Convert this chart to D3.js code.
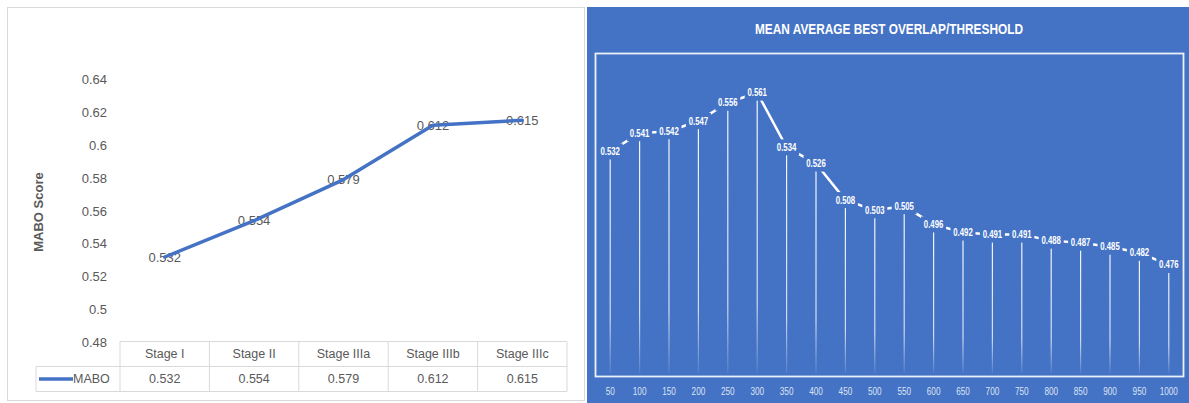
<!DOCTYPE html>
<html>
<head>
<meta charset="utf-8">
<script src="https://cdn.jsdelivr.net/npm/d3@7"></script>
<style>
  html, body { margin: 0; padding: 0; background: #fff; }
  svg { display: block; }
  .grey-text { fill: #595959; font-family: "Liberation Sans", Arial, sans-serif; }
  .white-text { font-family: "Liberation Sans", Arial, sans-serif; }
</style>
</head>
<body>
<svg id="chart" width="1189" height="403"></svg>
<script>
"use strict";

// ── Data ─────────────────────────────────────────────────────────────────────
const stages = ["Stage I", "Stage II", "Stage IIIa", "Stage IIIb", "Stage IIIc"];
const maboScores = [0.532, 0.554, 0.579, 0.612, 0.615];
const maboTicks = [0.48, 0.5, 0.52, 0.54, 0.56, 0.58, 0.6, 0.62, 0.64];
const seriesName = "MABO";

const thresholds = [50, 100, 150, 200, 250, 300, 350, 400, 450, 500,
                    550, 600, 650, 700, 750, 800, 850, 900, 950, 1000];
const overlapScores = [0.532, 0.541, 0.542, 0.547, 0.556, 0.561, 0.534, 0.526, 0.508, 0.503,
                       0.505, 0.496, 0.492, 0.491, 0.491, 0.488, 0.487, 0.485, 0.482, 0.476];

const BLUE = "#4472C4";
const svg = d3.select("#chart");
const fmt = v => String(+v.toFixed(3));

// ── Left panel: MABO by stage with data table ────────────────────────────────
const LeftChart = (() => {
  const g = svg.append("g");

  g.append("rect")
    .attr("x", 7.5).attr("y", 7.5)
    .attr("width", 577).attr("height", 393)
    .attr("fill", "#fff").attr("stroke", "#d9d9d9");

  const x = d3.scaleBand().domain(stages).range([120, 567]).padding(0);
  const y = d3.scaleLinear().domain([0.48, 0.64]).range([342.7, 79]);
  const cx = d => x(d) + x.bandwidth() / 2;

  // y tick labels (no axis line, no gridlines)
  const yAxis = d3.axisLeft(y).tickValues(maboTicks).tickSize(0).tickPadding(0).tickFormat(fmt);
  const ya = g.append("g").attr("transform", "translate(107,0)").call(yAxis);
  ya.select(".domain").remove();
  ya.selectAll("text")
    .attr("class", "grey-text")
    .attr("font-size", "13px");

  // axis title
  g.append("text")
    .attr("class", "grey-text")
    .attr("transform", "translate(43,212) rotate(-90)")
    .attr("text-anchor", "middle")
    .attr("font-size", "13px")
    .attr("font-weight", "bold")
    .text("MABO Score");

  // data labels (drawn under the line, like the reference)
  g.selectAll(".mabo-label")
    .data(maboScores)
    .enter().append("text")
    .attr("class", "grey-text mabo-label")
    .attr("x", (d, i) => cx(stages[i]))
    .attr("y", d => y(d))
    .attr("dy", "0.35em")
    .attr("text-anchor", "middle")
    .attr("font-size", "13px")
    .text(fmt);

  const line = d3.line()
    .x((d, i) => cx(stages[i]))
    .y(d => y(d));

  g.append("path")
    .datum(maboScores)
    .attr("d", line)
    .attr("fill", "none")
    .attr("stroke", BLUE)
    .attr("stroke-width", 3.5)
    .attr("stroke-linejoin", "round")
    .attr("stroke-linecap", "round");

  // ── Data table ──
  const top = 341.5, mid = 366.5, bottom = 391.5, legLeft = 36;
  const tbl = g.append("g")
    .attr("fill", "none")
    .attr("stroke", "#d9d9d9")
    .attr("stroke-width", 1);

  tbl.append("path")
    .attr("d", `M${x.range()[0]},${top}H${x.range()[1]}V${bottom}H${legLeft}V${mid}H${x.range()[1]}`);
  tbl.selectAll(".col-line")
    .data(stages)
    .enter().append("line")
    .attr("x1", d => x(d)).attr("x2", d => x(d))
    .attr("y1", top).attr("y2", bottom);

  g.selectAll(".hdr")
    .data(stages)
    .enter().append("text")
    .attr("class", "grey-text")
    .attr("x", cx)
    .attr("y", (top + mid) / 2)
    .attr("dy", "0.35em")
    .attr("text-anchor", "middle")
    .attr("font-size", "12.5px")
    .text(d => d);

  g.selectAll(".val")
    .data(maboScores)
    .enter().append("text")
    .attr("class", "grey-text")
    .attr("x", (d, i) => cx(stages[i]))
    .attr("y", (mid + bottom) / 2)
    .attr("dy", "0.35em")
    .attr("text-anchor", "middle")
    .attr("font-size", "12.5px")
    .text(fmt);

  // legend key inside the table
  g.append("line")
    .attr("x1", 39).attr("x2", 73)
    .attr("y1", (mid + bottom) / 2).attr("y2", (mid + bottom) / 2)
    .attr("stroke", BLUE).attr("stroke-width", 3.5);
  g.append("text")
    .attr("class", "grey-text")
    .attr("x", 73)
    .attr("y", (mid + bottom) / 2)
    .attr("dy", "0.35em")
    .attr("font-size", "12.5px")
    .text(seriesName);
})();

// ── Right panel: mean average best overlap per threshold ─────────────────────
const RightChart = (() => {
  const g = svg.append("g");
  const frame = { x: 595.5, y: 53.5, w: 588, h: 323 };

  g.append("rect")
    .attr("x", 587).attr("y", 7)
    .attr("width", 1189 - 587).attr("height", 403 - 7)
    .attr("fill", BLUE);

  g.append("text")
    .attr("class", "white-text")
    .attr("x", 889).attr("y", 29)
    .attr("dy", "0.35em")
    .attr("text-anchor", "middle")
    .attr("fill", "#fff")
    .attr("font-weight", "bold")
    .attr("font-size", "15px")
    .attr("textLength", 268)
    .attr("lengthAdjust", "spacingAndGlyphs")
    .text("MEAN AVERAGE BEST OVERLAP/THRESHOLD");

  g.append("rect")
    .attr("x", frame.x).attr("y", frame.y)
    .attr("width", frame.w).attr("height", frame.h)
    .attr("fill", "none")
    .attr("stroke", "rgba(255,255,255,0.9)")
    .attr("stroke-width", 1.8);

  const x = d3.scaleBand().domain(thresholds).range([frame.x, frame.x + frame.w]).padding(0);
  const y = d3.scaleLinear().domain([0.42, 0.58]).range([378.5, 54.1]);
  const cx = d => x(d) + x.bandwidth() / 2;
  const base = frame.y + frame.h - 4;

  // fading drop lines
  const grad = svg.append("defs").append("linearGradient")
    .attr("id", "dropFade")
    .attr("x1", 0).attr("y1", 0).attr("x2", 0).attr("y2", 1);
  grad.append("stop").attr("offset", "0").attr("stop-color", "#fff").attr("stop-opacity", 0.95);
  grad.append("stop").attr("offset", "0.75").attr("stop-color", "#fff").attr("stop-opacity", 0.75);
  grad.append("stop").attr("offset", "1").attr("stop-color", "#fff").attr("stop-opacity", 0.1);

  g.selectAll(".drop")
    .data(overlapScores)
    .enter().append("rect")
    .attr("x", (d, i) => cx(thresholds[i]) - 0.6)
    .attr("y", d => y(d))
    .attr("width", 1.2)
    .attr("height", d => base - y(d))
    .attr("fill", "url(#dropFade)");

  const line = d3.line()
    .x((d, i) => cx(thresholds[i]))
    .y(d => y(d));

  g.append("path")
    .datum(overlapScores)
    .attr("d", line)
    .attr("fill", "none")
    .attr("stroke", "#fff")
    .attr("stroke-width", 2.5);

  // data labels: blue boxes hide the line around each point, texts on top
  const labelW = 25, labelH = 16;
  const pos = (d, i) => `translate(${cx(thresholds[i])},${y(d)})`;

  g.append("g").selectAll("rect")
    .data(overlapScores)
    .enter().append("rect")
    .attr("transform", pos)
    .attr("x", -labelW / 2).attr("y", -labelH / 2)
    .attr("width", labelW).attr("height", labelH)
    .attr("fill", BLUE);

  g.append("g").selectAll("g")
    .data(overlapScores)
    .enter().append("g")
    .attr("transform", pos)
    .append("text")
    .attr("class", "white-text")
    .attr("transform", "scale(0.78,1)")
    .attr("text-anchor", "middle")
    .attr("dy", "0.35em")
    .attr("fill", "#fff")
    .attr("font-weight", "bold")
    .attr("font-size", "10px")
    .text(fmt);

  // x tick labels
  const xAxis = d3.axisBottom(x).tickSize(0).tickPadding(0);
  const xa = g.append("g").attr("transform", "translate(0,391)").call(xAxis);
  xa.select(".domain").remove();
  xa.selectAll("text")
    .attr("class", "white-text")
    .attr("transform", "scale(0.82,1)")
    .attr("y", 0)
    .attr("dy", "0.35em")
    .attr("fill", "#dce4f4")
    .attr("font-size", "10px");
})();
</script>
</body>
</html>
